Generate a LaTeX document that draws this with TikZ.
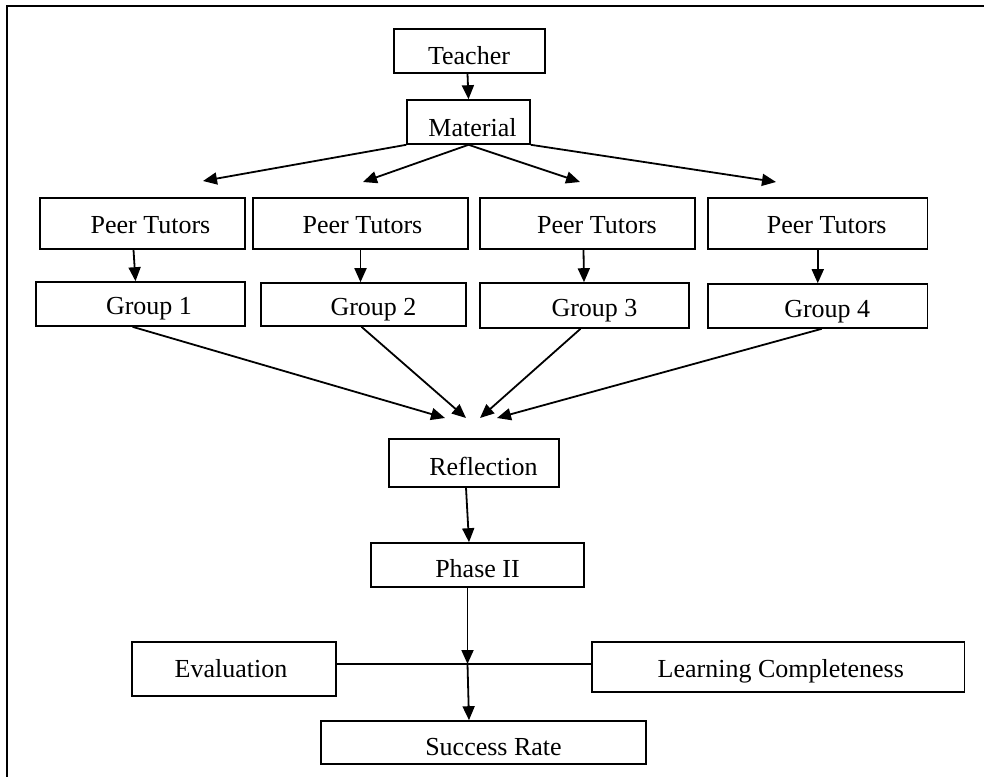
\documentclass[tikz,border=0pt]{standalone}
\usepackage{fontspec}
\setmainfont{Liberation Serif}
\usetikzlibrary{arrows.meta,calc}
\begin{document}
\begin{tikzpicture}[x=1pt,y=-1pt,
  box/.style={draw, rectangle, line width=1.6pt, inner sep=0pt},
  lbl/.style={font=\fontsize{26}{30}\selectfont, inner sep=0pt},
  arr/.style={line width=1.8pt, -{Triangle[length=14pt,width=12pt]}},
  plain/.style={line width=1.8pt},
  frame/.style={line width=2.2pt}]
\useasboundingbox (0,0) rectangle (984,776);
% frame
\draw[frame] (6.7,790) -- (6.7,6.3) -- (995,6.3);
% boxes
\node[box, minimum width=151pt, minimum height=44pt, label={[lbl,xshift=-0.5pt,yshift=-5pt]center:Teacher}] (teacher) at (469.5,51) {};
\node[box, minimum width=123pt, minimum height=44pt, label={[lbl,xshift=4pt,yshift=-5.5pt]center:Material}] (material) at (468.5,122) {};
\node[box, minimum width=205pt, minimum height=51pt, label={[lbl,xshift=8pt,yshift=-2pt]center:Peer Tutors}] (pt1) at (142.5,223.5) {};
\node[box, minimum width=215pt, minimum height=51pt, label={[lbl,xshift=2pt,yshift=-2pt]center:Peer Tutors}] (pt2) at (360.5,223.5) {};
\node[box, minimum width=215pt, minimum height=51pt, label={[lbl,xshift=9.5pt,yshift=-2pt]center:Peer Tutors}] (pt3) at (587.5,223.5) {};
\node[box, minimum width=219.5pt, minimum height=51pt, label={[lbl,xshift=9pt,yshift=-2pt]center:Peer Tutors}] (pt4) at (817.75,223.5) {};
\node[box, minimum width=209pt, minimum height=44pt, label={[lbl,xshift=8.5pt,yshift=-5pt]center:Group 1}] (g1) at (140.5,304) {};
\node[box, minimum width=205pt, minimum height=43pt, label={[lbl,xshift=10pt,yshift=-5.5pt]center:Group 2}] (g2) at (363.5,304.5) {};
\node[box, minimum width=209pt, minimum height=45pt, label={[lbl,xshift=10pt,yshift=-5.5pt]center:Group 3}] (g3) at (584.5,305.5) {};
\node[box, minimum width=219.5pt, minimum height=44pt, label={[lbl,xshift=9.5pt,yshift=-6pt]center:Group 4}] (g4) at (817.75,306) {};
\node[box, minimum width=170pt, minimum height=48pt, label={[lbl,xshift=9.5pt,yshift=-3.7pt]center:Reflection}] (refl) at (474,463) {};
\node[box, minimum width=213pt, minimum height=44pt, label={[lbl,xshift=0pt,yshift=-4pt]center:Phase II}] (phase) at (477.5,565) {};
\node[box, minimum width=204pt, minimum height=54pt, label={[lbl,xshift=-3pt,yshift=0pt]center:Evaluation}] (eval) at (234,669) {};
\node[box, minimum width=372.5pt, minimum height=50pt, label={[lbl,xshift=2.5pt,yshift=-4pt]center:Learning Completeness}] (lc) at (778.25,667) {};
\node[box, minimum width=325pt, minimum height=43pt, label={[lbl,xshift=10pt,yshift=-5pt]center:Success Rate}] (sr) at (483.5,742.5) {};
% free arrow ends
\coordinate (m1) at (203,181);
\coordinate (m2) at (363,182);
\coordinate (m3) at (580,182);
\coordinate (m4) at (776,182);
\coordinate (r1) at (445,418);
\coordinate (r2) at (466,418);
\coordinate (r3) at (480,418);
\coordinate (r4) at (497,418);
\coordinate (j) at (467.5,664);
% connectors
\draw[arr] ($(teacher.south)+(-2,0)$) -- (material.north);
\draw[arr] (material.south west) -- (m1);
\draw[arr] (material.south) -- (m2);
\draw[arr] (material.south) -- (m3);
\draw[arr] (material.south east) -- (m4);
\draw[arr] ($(pt1.south)+(-9,0)$) -- ($(g1.north)+(-5,0)$);
\draw[arr] (pt2.south) -- (g2.north -| pt2.south);
\draw[arr] ($(pt3.south)+(-4,0)$) -- ($(g3.north)+(-0.5,0)$);
\draw[arr] (pt4.south) -- (g4.north);
\draw[arr] ($(g1.south)+(-8,0)$) -- (r1);
\draw[arr] ($(g2.south)+(-2,0)$) -- (r2);
\draw[arr] ($(g3.south)+(-4,0)$) -- (r3);
\draw[arr] ($(g4.south)+(4,0)$) -- (r4);
\draw[arr] ($(refl.south)+(-8,0)$) -- ($(phase.north)+(-8.5,0)$);
\draw[arr] ($(phase.south)+(-10,0)$) -- (j);
\draw[plain] (eval.east |- j) -- (lc.west |- j);
\draw[arr] (j) -- ($(sr.north)+(-14.5,0)$);
\end{tikzpicture}
\end{document}
